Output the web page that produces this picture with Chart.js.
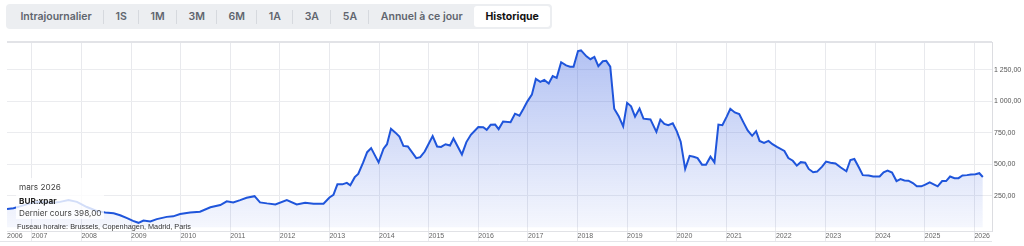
<!DOCTYPE html>
<html lang="fr">
<head>
<meta charset="utf-8">
<title>BUR:xpar historique</title>
<script src="https://cdn.jsdelivr.net/npm/chart.js@4.4.1/dist/chart.umd.min.js"></script>
<style>
  body { margin: 0; width: 1024px; height: 246px; overflow: hidden; position: relative; background: #fff; font-family: Inter, "Noto Sans", sans-serif; }
  #periods { position: absolute; left: 6px; top: 4px; height: 25px; display: flex; align-items: center; background: #eceef1; border-radius: 4px; padding: 0 2px 0 3px; }
  #periods span { font-size: 10.5px; font-weight: 600; color: #60656e; padding: 0 11.4px; line-height: 21px; white-space: nowrap; }
  #periods i { width: 1px; height: 14px; background: #d6d9de; }
  #periods span.active { background: #fff; color: #111; font-weight: 700; border-radius: 3px; }
  #chartBox { position: absolute; left: 0; top: 36px; width: 1024px; height: 210px; }
  #bottomLine { position: absolute; left: 0; top: 241px; width: 992px; height: 1px; background: #e4e5e9; }
  #info { position: absolute; left: 16px; top: 178px; width: 88px; height: 41px; background: rgba(255,255,255,0.8); font-size: 8.2px; color: #444; }
  #info div { position: absolute; left: 3px; white-space: nowrap; }
  #zone { position: absolute; left: 17px; top: 222px; font-family: "Liberation Sans", Arial, sans-serif; font-size: 7.3px; color: #333; white-space: nowrap; }
</style>
</head>
<body>
<div id="periods"></div>
<div id="chartBox"><canvas id="priceChart"></canvas></div>
<div id="bottomLine"></div>
<div id="info"></div>
<div id="zone"></div>

<script>
// period buttons
const periodLabels = ['Intrajournalier', '1S', '1M', '3M', '6M', '1A', '3A', '5A', 'Annuel à ce jour', 'Historique'];
const activePeriod = 'Historique';

// monthly closes (decimal year -> price)
const closeDates = [
  2006.50, 2006.63, 2006.76, 2006.93,
  2007.10, 2007.27, 2007.44, 2007.57, 2007.74, 2007.91,
  2008.11, 2008.31, 2008.48, 2008.65, 2008.78, 2008.92,
  2009.04, 2009.15, 2009.25, 2009.39, 2009.52, 2009.72, 2009.85, 2009.99,
  2010.19, 2010.39, 2010.60, 2010.80, 2010.93,
  2011.06, 2011.20, 2011.33, 2011.49, 2011.60, 2011.74, 2011.91,
  2012.14, 2012.34, 2012.51, 2012.68, 2012.88,
  2013.00, 2013.08, 2013.16, 2013.26, 2013.35, 2013.42, 2013.51, 2013.58, 2013.68, 2013.76, 2013.84, 2013.99,
  2014.09, 2014.16, 2014.24, 2014.33, 2014.41, 2014.49, 2014.58, 2014.75, 2014.83, 2014.92,
  2015.08, 2015.17, 2015.25, 2015.34, 2015.43, 2015.50, 2015.67, 2015.76, 2015.85,
  2016.00, 2016.10, 2016.17, 2016.25, 2016.34, 2016.41, 2016.50, 2016.65, 2016.74, 2016.83, 2016.91, 2016.99,
  2017.08, 2017.16, 2017.25, 2017.33, 2017.42, 2017.50, 2017.58, 2017.67, 2017.77, 2017.85, 2017.92,
  2018.01, 2018.07, 2018.18, 2018.26, 2018.34, 2018.42, 2018.51, 2018.58, 2018.66, 2018.74, 2018.83, 2018.92,
  2019.00, 2019.08, 2019.16, 2019.25, 2019.33, 2019.47, 2019.59, 2019.67, 2019.75, 2019.83, 2019.92,
  2020.00, 2020.08, 2020.17, 2020.26, 2020.34, 2020.42, 2020.51, 2020.59, 2020.68, 2020.76, 2020.84, 2020.92,
  2021.01, 2021.08, 2021.17, 2021.26, 2021.35, 2021.43, 2021.52, 2021.60, 2021.67, 2021.76, 2021.85, 2021.93,
  2022.02, 2022.17, 2022.25, 2022.34, 2022.42, 2022.50, 2022.59, 2022.66, 2022.75, 2022.83, 2022.93,
  2023.01, 2023.10, 2023.20, 2023.30, 2023.42, 2023.50, 2023.58, 2023.67, 2023.75, 2023.87, 2023.96,
  2024.09, 2024.17, 2024.25, 2024.34, 2024.43, 2024.51, 2024.59, 2024.67, 2024.76, 2024.84, 2024.93,
  2025.01, 2025.10, 2025.18, 2025.26, 2025.35, 2025.43, 2025.51, 2025.60, 2025.68, 2025.76, 2025.85, 2025.93,
  2026.02, 2026.10, 2026.17
];
const closePrices = [
  145, 150, 165, 185,
  200, 198, 194, 201, 215, 201,
  160, 129, 117, 111, 95, 72,
  50, 35, 53, 45, 64, 82, 86, 105,
  116, 123, 158, 176, 205,
  197, 215, 233, 246, 197, 189, 181,
  215, 181, 194, 186, 186,
  236, 256, 340, 340, 352, 332, 397, 423, 514, 595, 627, 514,
  623, 658, 780, 750, 718, 645, 640, 548, 556, 600,
  723, 640, 637, 658, 648, 703, 577, 675, 733,
  795, 793, 772, 812, 814, 778, 838, 832, 900, 884, 939, 998,
  1051, 1176, 1152, 1168, 1139, 1199, 1184, 1308, 1283, 1273, 1273,
  1397, 1402, 1355, 1332, 1350, 1277, 1316, 1319, 1273, 939, 881, 800,
  986, 959, 877, 941, 861, 855, 756, 853, 819, 809, 824,
  762, 678, 462, 566, 559, 548, 496, 496, 559, 514, 814, 809,
  879, 939, 910, 897, 827, 767, 725, 762, 684, 668, 684, 658,
  637, 605, 548, 527, 488, 516, 512, 462, 436, 441, 480,
  520, 512, 506, 475, 444, 533, 541, 475, 413, 410, 402,
  402, 436, 449, 434, 366, 381, 371, 369, 350, 324, 324,
  337, 355, 340, 324, 366, 366, 402, 389, 389, 410, 413, 418,
  420, 428, 398
];

// axis ticks
const yearTicks = [2006, 2007, 2008, 2009, 2010, 2011, 2012, 2013, 2014, 2015, 2016, 2017, 2018, 2019, 2020, 2021, 2022, 2023, 2024, 2025, 2026];
const priceTicks = [250, 500, 750, 1000, 1250];
const xMin = 2006.5, xMax = 2026.355;
const yMin = -30, yMax = 1467;

// info box
const infoMonth = 'mars 2026';
const infoSymbol = 'BUR:xpar';
const lastClose = 398;
const timeZone = 'Fuseau horaire: Brussels, Copenhagen, Madrid, Paris';

function frNumber(v){
    var parts = v.toFixed(2).split('.');
    return parts[0].replace(/\B(?=(\d{3})+(?!\d))/g, ' ') + ',' + parts[1];
}

// buttons
var bar = document.getElementById('periods');
periodLabels.forEach(function(p, i){
    if(i > 0 && p !== activePeriod){
        bar.appendChild(document.createElement('i'));
    }
    var s = document.createElement('span');
    s.textContent = p;
    if(p === activePeriod) s.className = 'active';
    bar.appendChild(s);
});

document.getElementById('info').innerHTML =
    '<div style="top:4px">' + infoMonth + '</div>' +
    '<div style="top:18px;font-weight:700;color:#222">' + infoSymbol + '</div>' +
    '<div style="top:30px">Dernier cours ' + frNumber(lastClose) + '</div>';
document.getElementById('zone').textContent = timeZone;

var points = [];
for(var i = 0; i < closeDates.length; i++){
    points.push({ x: closeDates[i], y: closePrices[i] });
}

//price chart
const ctx = document.getElementById('priceChart').getContext('2d');
const priceChart = new Chart(ctx, {
    type: 'line',
    data: {
        datasets: [{
            label: infoSymbol,
            data: points,
            borderColor: '#1f55db',
            borderWidth: 2,
            pointRadius: 0,
            tension: 0,
            fill: 'origin',
            backgroundColor: function(context){
                var area = context.chart.chartArea;
                if(!area) return 'rgba(37,80,220,0.2)';
                var g = context.chart.ctx.createLinearGradient(0, area.top, 0, area.bottom);
                g.addColorStop(0, 'rgba(37,80,220,0.36)');
                g.addColorStop(1, 'rgba(37,80,220,0.04)');
                return g;
            }
        }]
    },
    options: {
        animation: false,
        responsive: true,
        maintainAspectRatio: false,
        layout: { padding: { left: 7, top: 3, right: 0, bottom: 0 } },
        plugins: { legend: { display: false }, tooltip: { enabled: false } },
        scales: {
            x: {
                type: 'linear',
                min: xMin,
                max: xMax,
                afterBuildTicks: function(scale){
                    scale.ticks = yearTicks.map(function(y){ return { value: Math.max(y, xMin) }; });
                },
                afterFit: function(scale){ scale.height = 15; },
                ticks: {
                    align: 'start',
                    padding: -9,
                    maxRotation: 0,
                    autoSkip: false,
                    color: '#666',
                    font: { family: '"Liberation Sans", Arial, sans-serif', size: 7 },
                    callback: function(v){ return String(Math.floor(v)); }
                },
                grid: {
                    color: function(c){ return c.index === 0 ? 'rgba(0,0,0,0)' : '#e8e9ed'; },
                    tickLength: 10
                },
                border: { color: '#e1e2e6' }
            },
            y: {
                position: 'right',
                min: yMin,
                max: yMax,
                afterBuildTicks: function(scale){
                    scale.ticks = priceTicks.concat([yMax]).map(function(v){ return { value: v }; });
                },
                afterFit: function(scale){ scale.width = 32; },
                ticks: {
                    padding: 2,
                    color: '#555',
                    font: { family: '"Liberation Sans", Arial, sans-serif', size: 7 },
                    callback: function(v){ return v === yMax ? '' : frNumber(v); }
                },
                grid: {
                    color: function(c){ return c.tick && c.tick.value === yMax ? '#e2e3e7' : '#ebecef'; },
                    lineWidth: function(c){ return c.tick && c.tick.value === yMax ? 2 : 1; },
                    drawTicks: false
                },
                border: { color: '#dcdde1' }
            }
        }
    }
});
</script>
</body>
</html>
